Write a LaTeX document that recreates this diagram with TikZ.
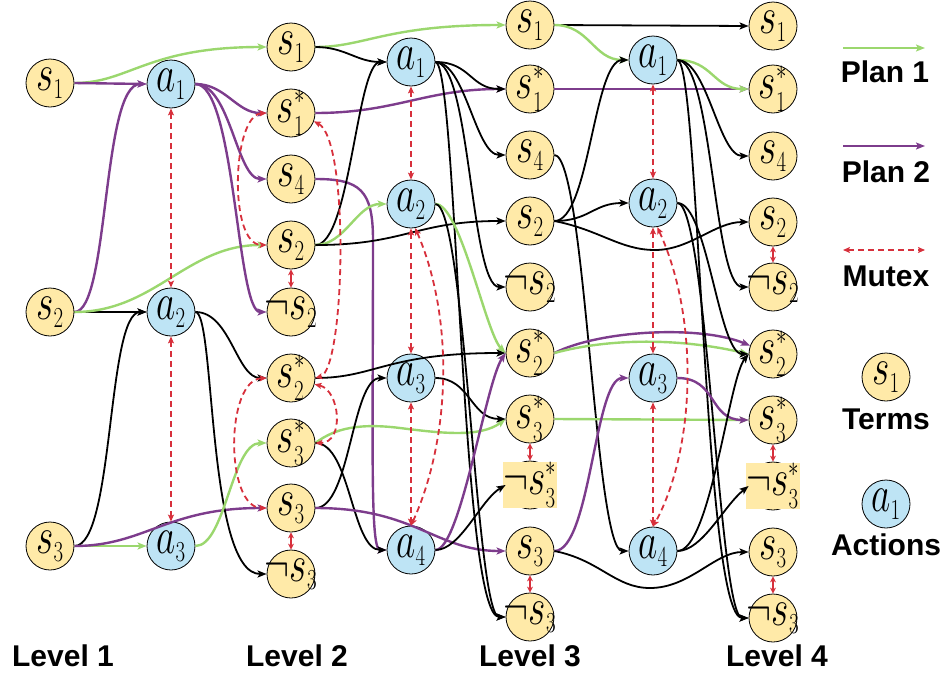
\RequirePackage{fix-cm}
\documentclass[tikz,border=0pt]{standalone}
\usepackage{fontspec}
\usepackage{graphicx}
\setsansfont{Liberation Sans}
\usetikzlibrary{arrows.meta}
\DeclareMathSizes{52}{52}{29}{21}
\definecolor{termfill}{RGB}{255,234,168}
\definecolor{actfill}{RGB}{190,228,245}
\definecolor{planone}{RGB}{155,215,110}
\definecolor{plantwo}{RGB}{125,60,140}
\definecolor{mutexred}{RGB}{215,48,60}
% math labels, set tall and narrow
\newcommand{\mlbl}[1]{\scalebox{0.72}[1]{\fontsize{52}{52}\selectfont$#1$}}
\tikzset{
  term/.style={circle,draw=black,line width=0.8pt,fill=termfill,minimum size=48pt,inner sep=0pt},
  act/.style={circle,draw=black,line width=0.8pt,fill=actfill,minimum size=48pt,inner sep=0pt},
  lbl/.style={inner sep=0pt},
  patch/.style={inner sep=0pt,fill=termfill},
  tip/.style={-{Stealth[length=9pt,width=7pt,inset=2pt]}},
  pone/.style={tip,draw=planone,line width=2.4pt},
  ptwo/.style={tip,draw=plantwo,line width=2.4pt},
  pblk/.style={tip,draw=black,line width=1.8pt},
  mutex/.style={draw=mutexred,line width=1.8pt,dash pattern=on 6pt off 4pt,
    {Stealth[length=7pt,width=6pt,inset=1.5pt]}-{Stealth[length=7pt,width=6pt,inset=1.5pt]}},
  mshort/.style={draw=mutexred,line width=1.6pt,
    {Stealth[length=6pt,width=6pt]}-{Stealth[length=6pt,width=6pt]}},
  bold/.style={font=\sffamily\bfseries\fontsize{30}{30}\selectfont,inner sep=0pt},
}
\newcommand{\tnode}[4]{\node[term] (#1) at (#2,#3) {}; \node[lbl] (#1-t) at (#1) {\mlbl{#4}};}
\newcommand{\pnode}[4]{\node[term] (#1) at (#2,#3) {}; \node[patch] (#1-t) at (#1) {\mlbl{#4}};}
\newcommand{\anode}[4]{\node[act] (#1) at (#2,#3) {}; \node[lbl] (#1-t) at (#1) {\mlbl{#4}};}
\begin{document}
\begin{tikzpicture}[x=1pt,y=-1pt]
\useasboundingbox (0,0) rectangle (946,675);

% ---------- level 1 ----------
\tnode{La1}{50}{83}{s_1}
\tnode{La2}{50}{312}{s_2}
\tnode{La3}{50}{546}{s_3}
\anode{Aa1}{171}{84}{a_1}
\anode{Aa2}{171}{312}{a_2}
\anode{Aa3}{171}{546}{a_3}
% ---------- level 2 ----------
\tnode{Lb1}{291}{47}{s_1}
\tnode{Lb1s}{291}{113}{s_1^*}
\tnode{Lb4}{291}{179}{s_4}
\tnode{Lb2}{291}{245}{s_2}
\tnode{Lbn2}{291}{312}{\neg s_2}
\tnode{Lb2s}{291}{378}{s_2^*}
\tnode{Lb3s}{291}{443}{s_3^*}
\tnode{Lb3}{291}{508}{s_3}
\tnode{Lbn3}{291}{574}{\neg s_3}
\anode{Ab1}{411}{62}{a_1}
\anode{Ab2}{411}{204}{a_2}
\anode{Ab3}{411}{378}{a_3}
\anode{Ab4}{411}{550}{a_4}
% ---------- level 3 ----------
\tnode{Lc1}{530}{25}{s_1}
\tnode{Lc1s}{530}{89}{s_1^*}
\tnode{Lc4}{530}{155}{s_4}
\tnode{Lc2}{530}{221}{s_2}
\tnode{Lcn2}{530}{287}{\neg s_2}
\tnode{Lc2s}{530}{353}{s_2^*}
\tnode{Lc3s}{530}{419}{s_3^*}
\pnode{Lcn3s}{530}{485}{\neg s_3^*}
\tnode{Lc3}{530}{551}{s_3}
\tnode{Lcn3}{530}{617}{\neg s_3}
\anode{Ac1}{653}{60}{a_1}
\anode{Ac2}{653}{203}{a_2}
\anode{Ac3}{653}{378}{a_3}
\anode{Ac4}{653}{551}{a_4}
% ---------- level 4 ----------
\tnode{Ld1}{773}{26}{s_1}
\tnode{Ld1s}{773}{89}{s_1^*}
\tnode{Ld4}{773}{156}{s_4}
\tnode{Ld2}{773}{222}{s_2}
\tnode{Ldn2}{773}{287}{\neg s_2}
\tnode{Ld2s}{773}{354}{s_2^*}
\tnode{Ld3s}{773}{420}{s_3^*}
\pnode{Ldn3s}{773}{486}{\neg s_3^*}
\tnode{Ld3}{773}{552}{s_3}
\tnode{Ldn3}{773}{618}{\neg s_3}

% ---------- edges: level 1 -> level 2 ----------
\draw[pone] (La1.east) .. controls +(55,0) and +(-120,0) .. (Lb1.west);
\draw[ptwo] (La1.east) -- (Aa1.west);
\draw[ptwo] (La2.east) .. controls +(35,0) and +(-45,0) .. (Aa1.west);
\draw[pblk] (La2.east) -- (Aa2.west);
\draw[pone] (La2.east) .. controls +(80,0) and +(-80,0) .. (Lb2.west);
\draw[pblk] (La3.east) .. controls +(40,0) and +(-40,0) .. (Aa2.west);
\draw[pone] (La3.east) -- (Aa3.west);
\draw[ptwo] (La3.east) .. controls +(70,0) and +(-100,0) .. (Lb3.west);
\draw[ptwo] (Aa1.east) .. controls +(30,0) and +(-30,0) .. (Lb1s.west);
\draw[ptwo] (Aa1.east) .. controls +(35,0) and +(-30,0) .. (Lb4.west);
\draw[ptwo] (Aa1.east) .. controls +(40,0) and +(-30,0) .. (Lbn2.west);
\draw[pblk] (Aa2.east) .. controls +(35,0) and +(-30,0) .. (Lb2s.west);
\draw[pblk] (Aa2.east) .. controls +(20,0) and +(-60,0) .. (Lbn3.west);
\draw[pone] (Aa3.east) .. controls +(30,0) and +(-35,0) .. (Lb3s.west);

% ---------- edges: level 2 -> level 3 ----------
\draw[pone] (Lb1.east) .. controls +(50,0) and +(-120,0) .. (Lc1.west);
\draw[pblk] (Lb1.east) .. controls +(30,0) and +(-30,0) .. (Ab1.west);
\draw[ptwo] (Lb1s.east) .. controls +(80,0) and +(-80,0) .. (Lc1s.west);
\draw[ptwo] (Lb4.east) .. controls (360,179) and (373,190) .. (373,240)
  .. controls (373,450) and (370,550) .. (Ab4.west);
\draw[pblk] (Lb2.east) .. controls +(35,0) and +(-30,0) .. (Ab1.west);
\draw[pone] (Lb2.east) .. controls +(30,0) and +(-30,0) .. (Ab2.west);
\draw[pblk] (Lb2.east) .. controls +(90,0) and +(-90,0) .. (Lc2.west);
\draw[pblk] (Lb2s.east) .. controls +(60,0) and +(-120,0) .. (Lc2s.west);
\draw[pone] (Lb3s.east) .. controls (335,428) and (360,423) .. (400,428)
  .. controls (440,433) and (480,438) .. (Lc3s.west);
\draw[pblk] (Lb3s.east) .. controls +(35,0) and +(-35,0) .. (Ab4.west);
\draw[pblk] (Lb3.east) .. controls +(35,0) and +(-35,0) .. (Ab3.west);
\draw[ptwo] (Lb3.east) .. controls +(100,0) and +(-70,0) .. (Lc3.west);
\draw[pblk] (Ab1.east) .. controls +(35,0) and +(-35,0) .. (Lc1s.west);
\draw[pblk] (Ab1.east) .. controls +(30,0) and +(-30,0) .. (Lc4.west);
\draw[pblk] (Ab1.east) .. controls +(35,0) and +(-35,0) .. (Lcn2.west);
\draw[pblk] (Ab1.east) .. controls +(22,0) and +(-45,0) .. (Lcn3.west);
\draw[pone] (Ab2.east) .. controls +(25,0) and +(-20,-20) .. (Lc2s.west);
\draw[pblk] (Ab2.east) .. controls +(30,0) and +(-30,0) .. (Lcn3.west);
\draw[pblk] (Ab3.east) .. controls +(35,0) and +(-35,0) .. (Lc3s.west);
\draw[ptwo] (Ab4.east) .. controls +(25,0) and +(-20,30) .. (Lc2s.west);
\draw[pblk] (Ab4.east) .. controls +(25,0) and +(-25,15) .. (Lcn3s.west);

% ---------- edges: level 3 -> level 4 ----------
\draw[pblk] (Lc1.east) -- (Ld1.west);
\draw[pone] (Lc1.east) .. controls +(35,0) and +(-35,0) .. (Ac1.west);
\draw[ptwo] (Lc1s.east) -- (Ld1s.west);
\draw[pblk] (Lc4.east) .. controls +(31,0) and +(-34,0) .. (Ac4.west);
\draw[pblk] (Lc2.east) .. controls +(35,0) and +(-35,0) .. (Ac1.west);
\draw[pblk] (Lc2.east) .. controls +(35,0) and +(-35,0) .. (Ac2.west);
\draw[pblk] (Lc2.east) .. controls (600,230) and (620,250) .. (655,250)
  .. controls (690,250) and (715,222) .. (Ld2.west);
\draw[ptwo] (Lc2s.east) .. controls (600,330) and (700,325) .. (Ld2s.160);
\draw[pone] (Lc2s.east) .. controls (610,338) and (680,338) .. (Ld2s.west);
\draw[pone] (Lc3s.east) -- (Ld3s.west);
\draw[ptwo] (Lc3.east) .. controls +(36,0) and +(-34,0) .. (Ac3.west);
\draw[pblk] (Lc3.east) .. controls (600,560) and (615,588) .. (650,588)
  .. controls (690,588) and (715,552) .. (Ld3.west);
\draw[pone] (Ac1.east) .. controls +(35,0) and +(-35,0) .. (Ld1s.west);
\draw[pblk] (Ac1.east) .. controls +(30,0) and +(-30,0) .. (Ld4.west);
\draw[pblk] (Ac1.east) .. controls +(35,0) and +(-35,0) .. (Ldn2.west);
\draw[pblk] (Ac1.east) .. controls +(22,0) and +(-45,0) .. (Ldn3.west);
\draw[pblk] (Ac2.east) .. controls +(30,0) and +(-30,0) .. (Ld2s.west);
\draw[pblk] (Ac2.east) .. controls +(30,0) and +(-30,0) .. (Ldn3.west);
\draw[ptwo] (Ac3.east) .. controls +(40,0) and +(-40,0) .. (Ld3s.west);
\draw[pblk] (Ac4.east) .. controls +(33,0) and +(-20,25) .. (Ld2s.west);
\draw[pblk] (Ac4.east) .. controls +(25,0) and +(-25,20) .. (Ldn3s.west);

% ---------- mutex relations ----------
\draw[mutex] (Aa1.south) -- (Aa2.north);
\draw[mutex] (Aa2.south) -- (Aa3.north);
\draw[mutex] (Lb1s.west) .. controls (232,115) and (228,245) .. (Lb2.west);
\draw[mutex] (Lb1s.-20) .. controls (350,140) and (345,370) .. (Lb2s.east);
\draw[mutex] (Lb2s.west) .. controls (225,380) and (225,508) .. (Lb3.west);
\draw[mutex] (Lb2s.-15) .. controls (340,390) and (345,443) .. (Lb3s.east);
\draw[mshort] (Lb2.south) -- (Lbn2.north);
\draw[mshort] (Lb3.south) -- (Lbn3.north);
\draw[mutex] (Ab1.south) -- (Ab2.north);
\draw[mutex] (Ab2.south) -- (Ab3.north);
\draw[mutex] (Ab3.south) -- (Ab4.north);
\draw[mutex] (Ab2.-80) .. controls (455,320) and (450,440) .. (Ab4.north);
\draw[mshort] (Lc3s.south) -- (Lcn3s.north);
\draw[mshort] (Lc3.south) -- (Lcn3.north);
\draw[mutex] (Ac1.south) -- (Ac2.north);
\draw[mutex] (Ac2.south) -- (Ac3.north);
\draw[mutex] (Ac3.south) -- (Ac4.north);
\draw[mutex] (Ac2.-80) .. controls (700,320) and (695,450) .. (Ac4.north);
\draw[mshort] (Ld2.south) -- (Ldn2.north);
\draw[mshort] (Ld3s.south) -- (Ldn3s.north);
\draw[mshort] (Ld3.south) -- (Ldn3.north);

% ---------- legend ----------
\coordinate (g1) at (843,48);  \coordinate (g2) at (925,48);
\coordinate (p1) at (843,146); \coordinate (p2) at (925,146);
\coordinate (m1) at (843,250); \coordinate (m2) at (925,250);
\draw[pone] (g1) -- (g2);
\node[bold] (legplanone) at (885,72) {Plan 1};
\draw[ptwo] (p1) -- (p2);
\node[bold] (legplantwo) at (886,172) {Plan 2};
\draw[mutex] (m1) -- (m2);
\node[bold] (legmutex) at (886,276) {Mutex};
\tnode{legterm}{886}{377}{s_1}
\node[bold] (legterms) at (886,419) {Terms};
\anode{legact}{886}{504}{a_1}
\node[bold] (legactions) at (886,545) {Actions};

% ---------- level captions ----------
\node[bold] (lev1) at (63,656) {Level 1};
\node[bold] (lev2) at (297,656) {Level 2};
\node[bold] (lev3) at (530,656) {Level 3};
\node[bold] (lev4) at (777,656) {Level 4};
\end{tikzpicture}
\end{document}
